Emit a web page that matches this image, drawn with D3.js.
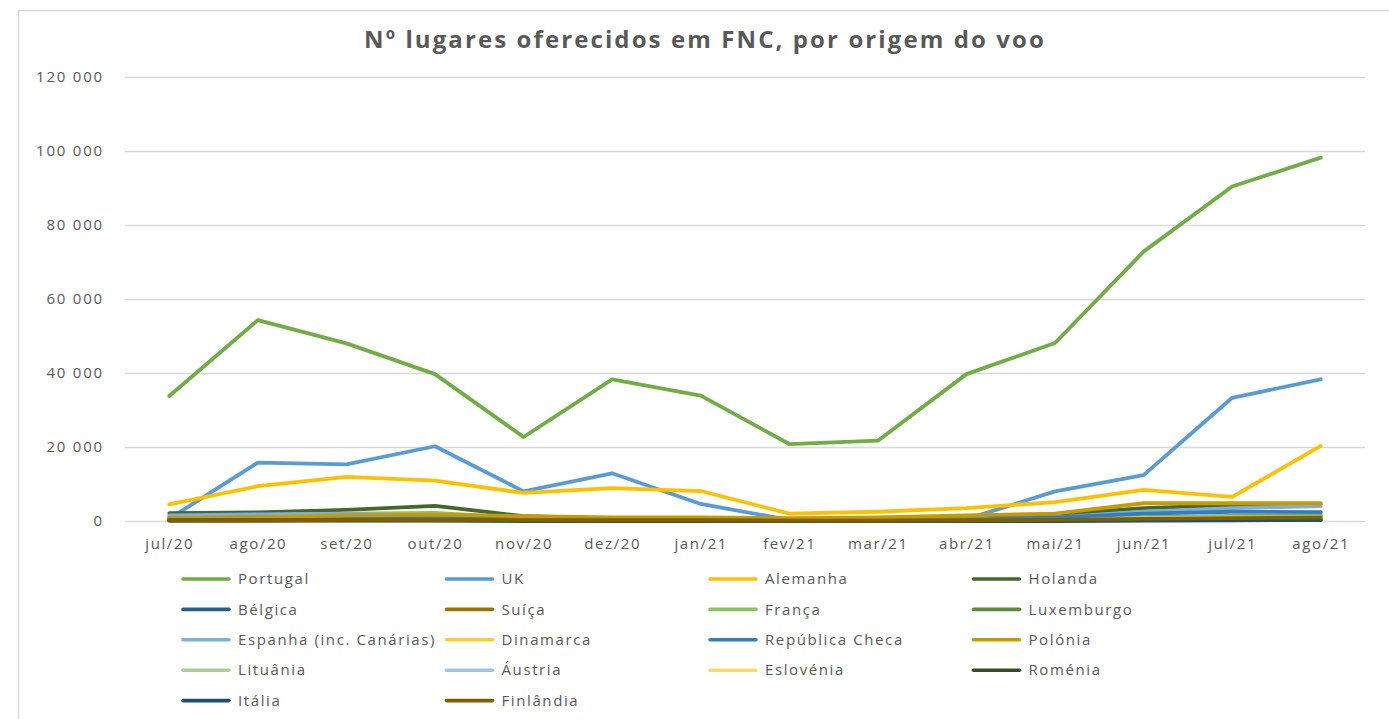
<!DOCTYPE html>
<html>
<head>
<meta charset="utf-8">
<script src="https://cdn.jsdelivr.net/npm/d3@7"></script>
<style>
  body { margin: 0; background: #fff; }
  text { font-family: "Open Sans", "Noto Sans", sans-serif; fill: #595959; }
</style>
</head>
<body>
<svg id="chart" width="1389" height="719"></svg>
<script>
// months on the x axis
var months = ["jul/20","ago/20","set/20","out/20","nov/20","dez/20","jan/21","fev/21","mar/21","abr/21","mai/21","jun/21","jul/21","ago/21"];
var yTicks = [0, 20000, 40000, 60000, 80000, 100000, 120000];

// seats offered per origin
var portugal   = [33800, 54300, 48000, 39700, 22700, 38300, 33900, 20800, 21700, 39700, 48100, 72800, 90400, 98200];
var uk         = [600, 15800, 15300, 20200, 8000, 12900, 4600, 300, 300, 500, 8000, 12400, 33300, 38300];
var alemanha   = [4500, 9400, 11900, 10900, 7600, 8900, 8100, 2000, 2500, 3500, 5100, 8400, 6500, 20300];
var holanda    = [2100, 2300, 3000, 4100, 1300, 700, 600, 300, 300, 600, 1700, 3500, 4300, 4500];
var belgica    = [600, 600, 700, 700, 300, 200, 200, 100, 100, 200, 300, 500, 600, 700];
var suica      = [700, 800, 900, 900, 500, 400, 400, 300, 300, 400, 600, 1000, 1300, 1500];
var franca     = [1200, 1600, 2000, 2200, 800, 400, 300, 200, 200, 400, 600, 1000, 1200, 1300];
var luxemburgo = [300, 400, 400, 400, 200, 200, 200, 100, 100, 200, 300, 500, 600, 600];
var espanha    = [1500, 1800, 2000, 1500, 500, 300, 300, 200, 200, 300, 1000, 2500, 3500, 4000];
var dinamarca  = [300, 500, 600, 500, 300, 200, 200, 100, 100, 200, 400, 800, 900, 900];
var checa      = [800, 1000, 1100, 900, 400, 300, 300, 200, 200, 300, 1000, 2000, 2500, 2400];
var polonia    = [800, 1000, 1500, 1700, 1300, 1000, 1000, 800, 1000, 1500, 2000, 4800, 4800, 4800];
var lituania   = [100, 200, 200, 200, 100, 100, 100, 0, 0, 100, 200, 300, 400, 400];
var austria    = [200, 300, 300, 300, 100, 100, 100, 0, 0, 100, 200, 400, 500, 500];
var eslovenia  = [100, 100, 200, 200, 100, 0, 0, 0, 0, 0, 100, 200, 300, 300];
var romenia    = [200, 200, 300, 300, 100, 100, 100, 0, 0, 100, 200, 300, 300, 300];
var italia     = [100, 100, 100, 100, 0, 0, 0, 0, 0, 0, 0, 100, 200, 300];
var finlandia  = [200, 200, 300, 300, 200, 200, 200, 100, 100, 200, 300, 600, 800, 900];

var names  = ["Portugal","UK","Alemanha","Holanda","Bélgica","Suíça","França","Luxemburgo","Espanha (inc. Canárias)","Dinamarca","República Checa","Polónia","Lituânia","Áustria","Eslovénia","Roménia","Itália","Finlândia"];
var values = [portugal, uk, alemanha, holanda, belgica, suica, franca, luxemburgo, espanha, dinamarca, checa, polonia, lituania, austria, eslovenia, romenia, italia, finlandia];
var colors = ["#70AD47","#5B9BD5","#FFC000","#43682B","#255E91","#997300","#8CC168","#5A8A3A","#7CAFDD","#FFCD33","#327DC2","#C99A00","#A9D18E","#9DC3E6","#FFD966","#334F1F","#1F4E79","#7F6000"];

var series = names.map(function(n, i){ return { name: n, color: colors[i], values: values[i] }; });

var svg = d3.select("#chart");

// chart border
svg.append("rect")
  .attr("x", 18.5).attr("y", 10.5)
  .attr("width", 1400).attr("height", 760)
  .attr("fill", "none").attr("stroke", "#d9d9d9").attr("stroke-width", 1.5);

// title
svg.append("text")
  .attr("x", 705).attr("y", 48)
  .attr("text-anchor", "middle")
  .style("font-size", "24px")
  .style("font-weight", "bold")
  .style("letter-spacing", "2.1px")
  .text("Nº lugares oferecidos em FNC, por origem do voo");

var plotL = 125, plotR = 1365, plotT = 77, plotB = 521;

var x = d3.scalePoint().domain(months).range([plotL, plotR]).padding(0.5);
var y = d3.scaleLinear().domain([0, 120000]).range([plotB, plotT]);

var fmt = function(d){ return d3.format(",")(d).replace(/,/g, " "); };

// y axis with gridlines
var yAxis = svg.append("g")
  .attr("transform", "translate(" + plotL + ",0)")
  .call(d3.axisLeft(y).tickValues(yTicks).tickSize(-(plotR - plotL)).tickPadding(21).tickFormat(fmt));
yAxis.select(".domain").remove();
yAxis.selectAll("line").attr("stroke", "#d9d9d9").attr("stroke-width", 1.3);
yAxis.selectAll("text").style("font-size", "15px").style("font-family", null).attr("fill", null)
  .style("letter-spacing", "1.8px");

// x axis labels
var xAxis = svg.append("g")
  .attr("transform", "translate(0," + plotB + ")")
  .call(d3.axisBottom(x).tickSize(0).tickPadding(17));
xAxis.select(".domain").remove();
xAxis.selectAll("text").style("font-size", "15px").style("font-family", null).attr("fill", null)
  .style("letter-spacing", "1.6px");

// lines
var line = d3.line()
  .x(function(d, i){ return x(months[i]); })
  .y(function(d){ return y(d); });

svg.append("g").selectAll("path")
  .data(series)
  .enter().append("path")
  .attr("d", function(d){ return line(d.values); })
  .attr("fill", "none")
  .attr("stroke", function(d){ return d.color; })
  .attr("stroke-width", 3.8)
  .attr("stroke-linejoin", "round")
  .attr("stroke-linecap", "round");

// legend
var legend = svg.append("g").selectAll("g")
  .data(series)
  .enter().append("g")
  .attr("transform", function(d, i){
    var col = i % 4, row = Math.floor(i / 4);
    return "translate(" + (183 + col * 263.5) + "," + (579 + row * 30.4) + ")";
  });
legend.append("line")
  .attr("x1", 0).attr("x2", 46).attr("y1", 0).attr("y2", 0)
  .attr("stroke", function(d){ return d.color; })
  .attr("stroke-width", 3.6)
  .attr("stroke-linecap", "round");
legend.append("text")
  .attr("x", 55).attr("dy", "0.35em")
  .style("font-size", "15px")
  .style("letter-spacing", "1.6px")
  .text(function(d){ return d.name; });
</script>
</body>
</html>
